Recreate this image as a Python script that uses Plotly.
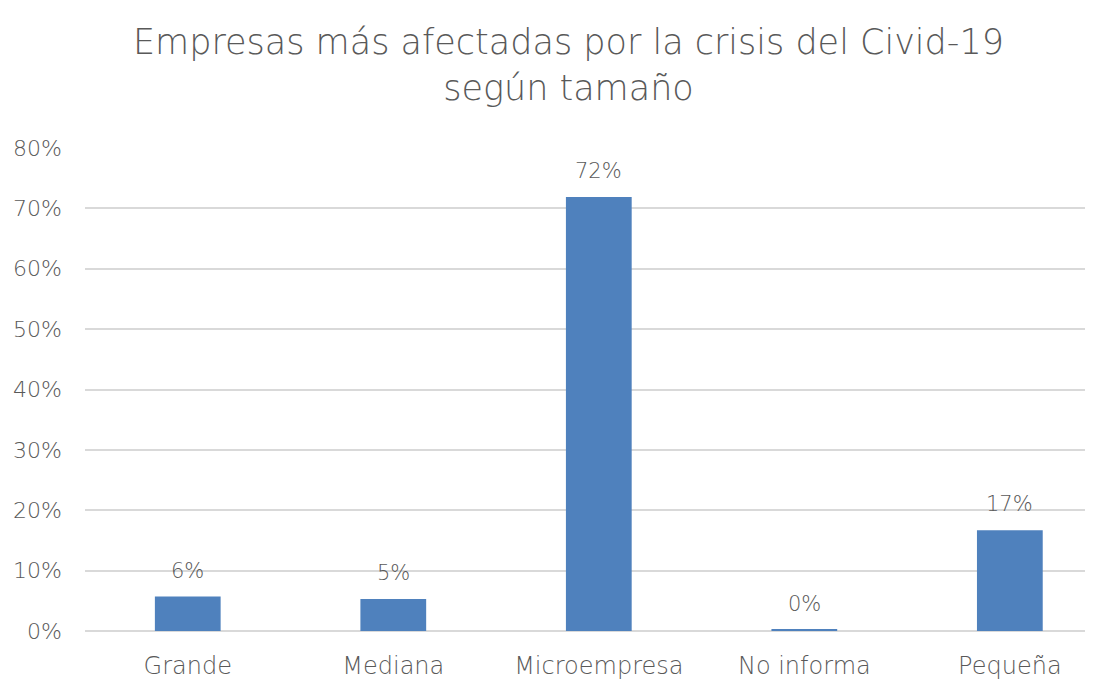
import plotly.graph_objects as go

categories = ["Grande", "Mediana", "Microempresa", "No informa", "Pequeña"]
values = [0.057, 0.053, 0.719, 0.002, 0.167]
labels = ["6%", "5%", "72%", "0%", "17%"]
y_ticks = [0, 0.1, 0.2, 0.3, 0.4, 0.5, 0.6, 0.7, 0.8]
y_tick_text = ["0%", "10%", "20%", "30%", "40%", "50%", "60%", "70%", "80%"]

FONT = "DejaVu Sans"
GREY = "#595959"

fig = go.Figure()
fig.add_trace(go.Bar(
    x=categories, y=values,
    marker=dict(color="#4F81BD", line=dict(width=0)),
    width=0.32,
    hoverinfo="skip",
))

for c, v, t in zip(categories, values, labels):
    fig.add_annotation(x=c, y=v, text=t, showarrow=False, yanchor="bottom",
                       yshift=12, font=dict(family=FONT, size=21, color=GREY, weight=200))

fig.add_annotation(text="Empresas más afectadas por la crisis del Civid-19<br>según tamaño",
                   xref="paper", yref="paper", x=0.4806, y=1.171,
                   xanchor="center", yanchor="middle", showarrow=False,
                   font=dict(family=FONT, size=35, color=GREY, weight=200))

fig.update_layout(
    width=1085, height=672,
    paper_bgcolor="white", plot_bgcolor="white",
    margin=dict(l=77, r=3, t=140, b=49),
    showlegend=False,
    bargap=0.68,
)
fig.update_xaxes(showgrid=False, showline=False, ticks="", ticklabelstandoff=18,
                 range=[-0.5, 4.39], automargin=False,
                 tickfont=dict(family=FONT, size=24, color=GREY, weight=200))
fig.update_yaxes(range=[0, 0.8], tickvals=y_ticks, ticktext=y_tick_text,
                 showgrid=True, gridcolor="#d9d9d9", gridwidth=1.5,
                 zeroline=True, zerolinecolor="#d9d9d9", zerolinewidth=1.5,
                 showline=False, ticks="", ticklabelstandoff=22, automargin=False,
                 tickfont=dict(family=FONT, size=22, color=GREY, weight=200))

fig.write_html("out.html")
